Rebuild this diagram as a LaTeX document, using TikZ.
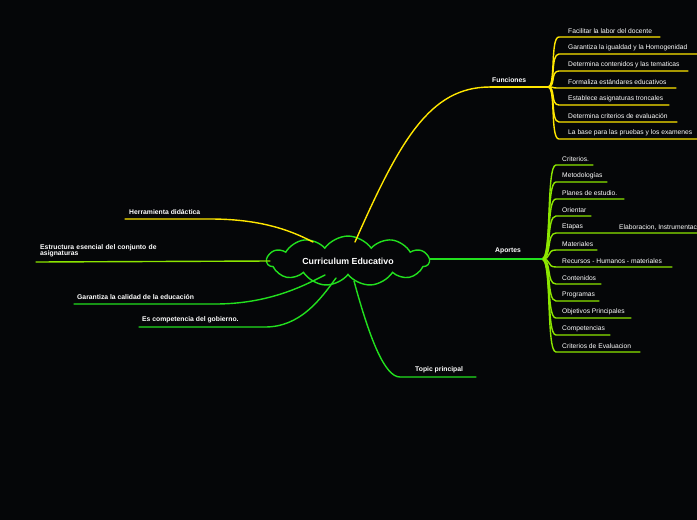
\documentclass[tikz,border=0pt]{standalone}
\usepackage{fontspec}
\setmainfont{Liberation Sans}
\usetikzlibrary{shapes.symbols}
\definecolor{bg}{HTML}{050608}
\definecolor{yel}{HTML}{FFE600}
\definecolor{grn}{HTML}{22E01E}
\definecolor{lim}{HTML}{8CE600}
\tikzset{
 lbl/.style={text=white,font=\fontsize{6.7}{7.5}\selectfont,anchor=west,inner sep=0pt},
 blbl/.style={text=white,font=\bfseries\fontsize{6.8}{7.8}\selectfont,anchor=west,inner sep=0pt,align=left},
 br/.style={line width=1.4pt,line cap=round},
}
\begin{document}
\begin{tikzpicture}[x=1pt,y=-1pt]
\fill[bg] (0,0) rectangle (697,520);
\useasboundingbox (0,0) rectangle (697,520);
% center
\node[cloud,cloud puffs=11,cloud puff arc=110,aspect=4.5,draw=grn,line width=1.4pt,fill=bg,minimum width=162pt,minimum height=38pt,text=white,font=\bfseries\fontsize{8.8}{10}\selectfont] (c) at (348,261) {Curriculum Educativo};
% Funciones
\coordinate (f0) at (490,87); \coordinate (f1) at (548,87);
\draw[br,yel] (355,242) .. controls (400,140) and (430,87) .. (f0);
\draw[br,yel] (f0) -- (f1);
\node[blbl] (fl) at (492,80) {Funciones};
\foreach \t/\y/\e [count=\i] in {Facilitar la labor del docente/31/660,Garantiza la igualdad y la Homogenidad/48/697,Determina contenidos y las tematicas/65/688,Formaliza estándares educativos/82/676,Establece asignaturas troncales/99/669,Determina criterios de evaluación/116/677,La base para las pruebas y los examenes/133/697}{
 \coordinate (fs\i) at (559,\y+6); \coordinate (fe\i) at (\e,\y+6);
 \draw[br,yel] (f1) .. controls (556,87) and (550,\y+6) .. (fs\i) -- (fe\i);
 \node[lbl] (ft\i) at (568,\y) {\t};
}
% Aportes
\coordinate (a0) at (430,259); \coordinate (a1) at (542,259);
\foreach \t/\y/\e [count=\i] in {Criterios./159/593,Metodologías/176/607,Planes de estudio./193/624,Orientar/210/591,Etapas/227/697,Materiales/244/597,Recursos - Humanos - materiales/261/672,Contenidos/278/601,Programas/295/599,Objetivos Principales/312/631,Competencias/329/610,Criterios de Evaluacion/346/640}{
 \coordinate (as\i) at (556,\y+6); \coordinate (ae\i) at (\e,\y+6);
 \draw[br,lim] (a1) .. controls (552,259) and (546,\y+6) .. (as\i) -- (ae\i);
 \node[lbl] (at\i) at (562,\y) {\t};
}
\draw[br,grn] (a0) -- (a1);
\node[blbl] (al) at (495,251) {Aportes};
\node[lbl] (etx) at (619,227) {Elaboracion, Instrumentacion};
% left
\coordinate (h1) at (125,219); \coordinate (h2) at (210,219);
\draw[br,yel] (h1) -- (h2) .. controls (260,219) and (290,230) .. (313,242);
\node[blbl] (hl) at (129,212) {Herramienta didáctica};
\coordinate (e1) at (36,262); \coordinate (e2) at (270,261);
\draw[br,lim] (e1) -- (e2);
\node[blbl,text width=160pt] (el) at (40,250.5) {Estructura esencial del conjunto de\\[-1.5pt]asignaturas};
\coordinate (g1) at (74,304); \coordinate (g2) at (215,304);
\draw[br,grn] (g1) -- (g2) .. controls (270,304) and (305,285) .. (325,275);
\node[blbl] (gl) at (77,297) {Garantiza la calidad de la educación};
\coordinate (k1) at (139,327); \coordinate (k2) at (265,327);
\draw[br,grn] (k1) -- (k2) .. controls (300,327) and (320,300) .. (336,278);
\node[blbl] (kl) at (142,320) {Es competencia del gobierno.};
% Topic principal
\coordinate (t1) at (400,377); \coordinate (t2) at (476,377);
\draw[br,grn] (354,281) .. controls (370,340) and (385,377) .. (t1) -- (t2);
\node[blbl] (tl) at (415,370) {Topic principal};
\end{tikzpicture}
\end{document}
